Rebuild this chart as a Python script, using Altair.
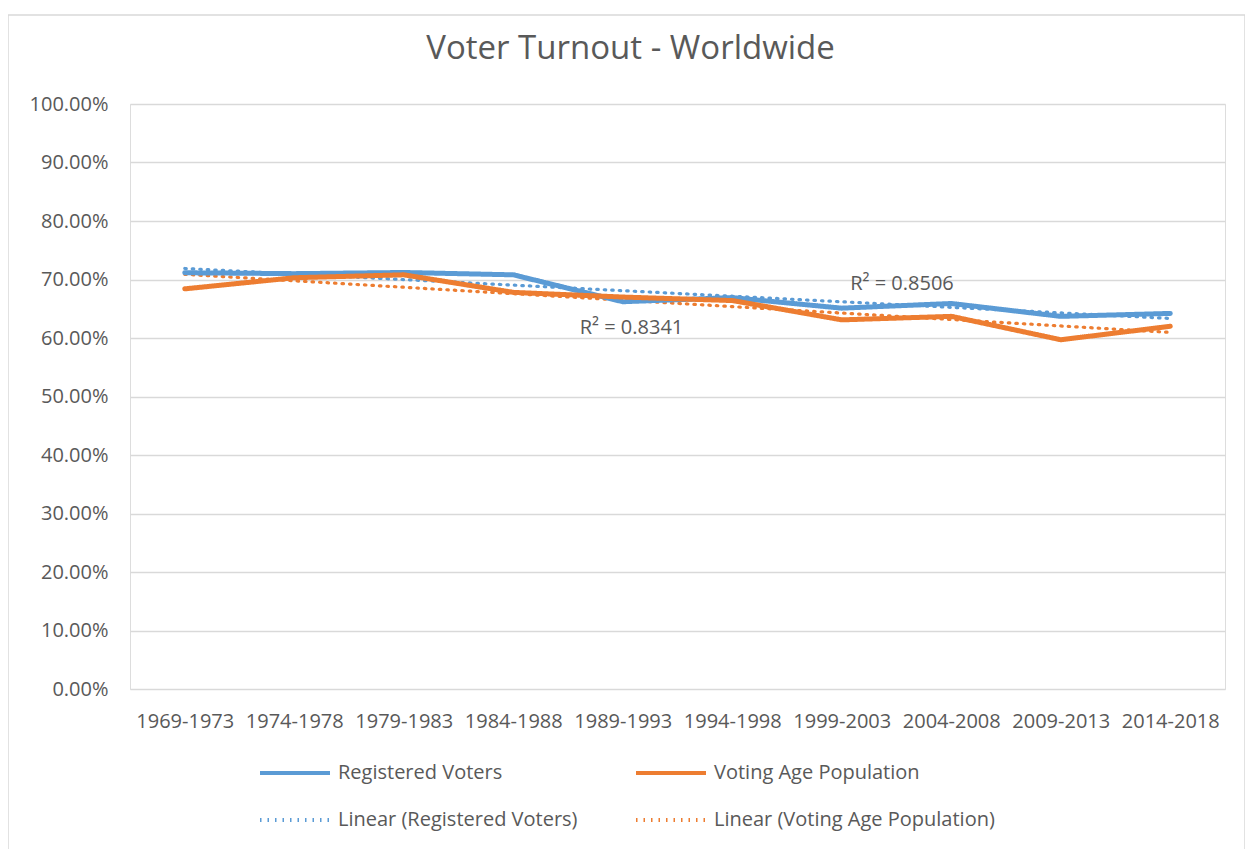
import altair as alt
import pandas as pd

periods = ["1969-1973", "1974-1978", "1979-1983", "1984-1988", "1989-1993",
           "1994-1998", "1999-2003", "2004-2008", "2009-2013", "2014-2018"]
registered = [0.7115, 0.7100, 0.7120, 0.7080, 0.6620, 0.6690, 0.6510, 0.6590, 0.6370, 0.6420]
vap = [0.6840, 0.7030, 0.7080, 0.6780, 0.6700, 0.6640, 0.6310, 0.6370, 0.5970, 0.6200]

series_names = ["Registered Voters", "Voting Age Population"]
legend_order = ["Registered Voters", "Voting Age Population",
                "Linear (Registered Voters)", "Linear (Voting Age Population)"]
colors = ["#5B9BD5", "#ED7D31", "#5B9BD5", "#ED7D31"]

r2_labels = ["R² = 0.8506", "R² = 0.8341"]
r2_x = [7.55, 5.08]
r2_y = [0.692, 0.617]

rows = []
for i, p in enumerate(periods):
    rows.append({"idx": i + 1, "period": p, "series": series_names[0], "value": registered[i]})
    rows.append({"idx": i + 1, "period": p, "series": series_names[1], "value": vap[i]})
df = pd.DataFrame(rows)
r2_df = pd.DataFrame({"text": r2_labels, "idx": r2_x, "value": r2_y})

TXT = "#595959"
FONT = "Open Sans"

label_expr = "[" + ",".join("'" + p + "'" for p in periods) + "][datum.value - 1]"

x_enc = alt.X("idx:Q",
              scale=alt.Scale(domain=[0.5, len(periods) + 0.5], nice=False, zero=False),
              axis=alt.Axis(values=list(range(1, len(periods) + 1)), labelExpr=label_expr,
                            title=None, grid=False, ticks=False, domain=False,
                            labelFontSize=20, labelColor=TXT, labelFont=FONT,
                            labelPadding=22, labelOverlap=False))
y_enc = alt.Y("value:Q",
              scale=alt.Scale(domain=[0, 1], nice=False),
              axis=alt.Axis(values=[i / 10 for i in range(11)], format=".2%", title=None,
                            grid=True, gridColor="#D9D9D9", gridWidth=1.3, ticks=False,
                            domain=False, labelFontSize=20, labelColor=TXT, labelFont=FONT,
                            labelPadding=22))

leg = alt.Legend(title=None, orient="none", legendX=128, legendY=632,
                 columns=2, columnPadding=50, rowPadding=-28,
                 symbolType="stroke", symbolSize=4900, labelLimit=500,
                 symbolStrokeWidth=4, labelFontSize=20,
                 labelColor=TXT, labelFont=FONT, labelOffset=6,
                 direction="horizontal")

color_enc = alt.Color("label:N", scale=alt.Scale(domain=legend_order, range=colors), legend=leg)
dash_enc = alt.StrokeDash("label:N",
                          scale=alt.Scale(domain=legend_order,
                                          range=[[1, 0], [1, 0], [1.5, 6], [1.5, 6]]),
                          legend=leg)

base = alt.Chart(df)

lines = base.transform_calculate(label="datum.series").mark_line(
    strokeWidth=5, strokeCap="round", strokeJoin="round"
).encode(x=x_enc, y=y_enc, color=color_enc, strokeDash=dash_enc)

trends = base.transform_regression(
    "idx", "value", groupby=["series"]
).transform_calculate(
    label="'Linear (' + datum.series + ')'"
).mark_line(strokeWidth=3.2, strokeCap="round").encode(
    x=x_enc, y=y_enc, color=color_enc, strokeDash=dash_enc)

r2_text = alt.Chart(r2_df).mark_text(
    fontSize=20, color=TXT, font=FONT, baseline="middle", align="center"
).encode(x=alt.X("idx:Q"), y=alt.Y("value:Q"), text="text:N")

frame = alt.Chart(pd.DataFrame({"a": [0]})).mark_rect(
    fill=None, stroke="#D9D9D9", strokeWidth=1.5, clip=False
).encode(x=alt.value(-122), x2=alt.value(1115), y=alt.value(-89), y2=alt.value(800))

chart = alt.layer(frame, trends, lines, r2_text).properties(
    width=1095, height=585,
    title=alt.TitleParams("Voter Turnout - Worldwide", fontSize=33, font=FONT,
                          fontWeight="normal", color=TXT, anchor="middle",
                          frame="group", dx=-47, offset=-52),
    autosize=alt.AutoSizeParams(type="none"),
    padding={"left": 122, "top": 96, "right": 20, "bottom": 160},
).configure_view(stroke=None).configure(background="white")

chart.save("out.html", embed_options={"renderer": "svg", "actions": False})
